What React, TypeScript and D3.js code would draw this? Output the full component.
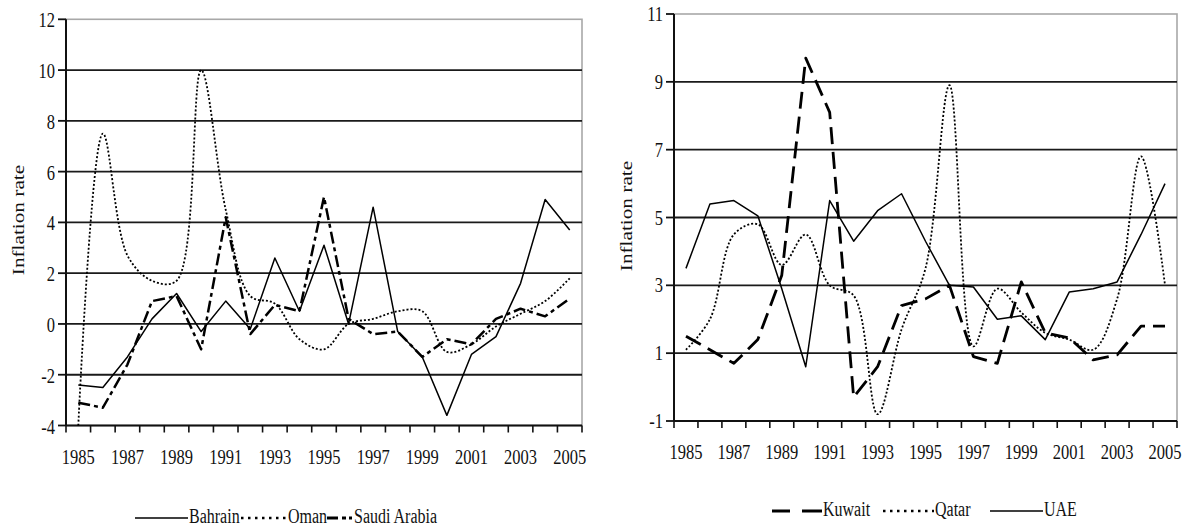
import * as d3 from "d3";
import React from "react";

// ---- data ----
const years = [
  "1985", "1986", "1987", "1988", "1989", "1990", "1991", "1992", "1993", "1994", "1995",
  "1996", "1997", "1998", "1999", "2000", "2001", "2002", "2003", "2004", "2005",
];
const yearLabels = ["1985", "1987", "1989", "1991", "1993", "1995", "1997", "1999", "2001", "2003", "2005"];

const leftTicks = [-4, -2, 0, 2, 4, 6, 8, 10, 12];
const rightTicks = [-1, 1, 3, 5, 7, 9, 11];

const bahrain = [-2.4, -2.5, -1.3, 0.2, 1.2, -0.3, 0.9, -0.2, 2.6, 0.5, 3.1, 0.0, 4.6, -0.3, -1.3, -3.6, -1.2, -0.5, 1.6, 4.9, 3.7];
const oman = [-4.0, 7.5, 2.7, 1.7, 1.7, 10.0, 4.5, 1.1, 0.8, -0.6, -1.0, 0.0, 0.2, 0.5, 0.5, -1.1, -0.8, -0.1, 0.4, 0.9, 1.8];
const saudiArabia = [-3.1, -3.3, -1.6, 0.9, 1.1, -1.0, 4.2, -0.4, 0.75, 0.5, 5.0, 0.2, -0.4, -0.3, -1.3, -0.6, -0.8, 0.2, 0.6, 0.3, 1.0];

const kuwait = [1.5, 1.1, 0.7, 1.4, 3.3, 9.7, 8.1, -0.3, 0.6, 2.4, 2.6, 3.0, 0.9, 0.7, 3.1, 1.6, 1.45, 0.8, 0.95, 1.8, 1.8];
const qatar = [1.1, 2.0, 4.5, 4.8, 3.6, 4.5, 3.0, 2.7, -0.8, 1.7, 3.5, 8.9, 1.2, 2.9, 2.2, 1.6, 1.4, 1.1, 2.6, 6.8, 3.0];
const uae = [3.5, 5.4, 5.5, 5.05, 2.9, 0.6, 5.5, 4.3, 5.2, 5.7, 4.3, 3.0, 2.95, 2.0, 2.1, 1.4, 2.8, 2.9, 3.1, 4.5, 6.0];

const FONT = "'Liberation Serif', 'Times New Roman', serif";

const styles = {
  solid: { dash: null, width: 1.5, curve: d3.curveLinear },
  dotted: { dash: "2,2", width: 1.8, curve: d3.curveCatmullRom },
  dashDot: { dash: "12,4,4,4", width: 2.5, curve: d3.curveLinear },
  longDash: { dash: "17,8", width: 2.8, curve: d3.curveLinear },
};

// text squeezed like the scanned figure
const Txt = ({ x, y, size = 16.5, anchor = "start", children }) => (
  <text
    transform={`translate(${x},${y}) scale(1,1.25)`}
    fontFamily={FONT}
    fontSize={size}
    textAnchor={anchor}
    fill="#111"
  >
    {children}
  </text>
);

const Panel = ({ box, ticks, series, labelY, labelX, labelOffset }) => {
  const x = d3.scaleBand(years, [box.left, box.right]).padding(0);
  const y = d3.scaleLinear([ticks[0], ticks[ticks.length - 1]], [box.bottom, box.top]);
  const bounds = x.domain().map((d) => x(d)).concat([box.right]);

  return (
    <g>
      <rect
        x={box.left}
        y={box.top}
        width={box.right - box.left}
        height={box.bottom - box.top}
        fill="white"
        stroke="#a8a8a8"
        strokeWidth={1.6}
      />
      {ticks.slice(1, -1).map((t) => (
        <line key={t} x1={box.left} x2={box.right} y1={y(t)} y2={y(t)} stroke="#1a1a1a" strokeWidth={1.8} />
      ))}
      {/* left axis */}
      <line x1={box.left} x2={box.left} y1={box.top} y2={box.bottom} stroke="#111" strokeWidth={2} />
      {ticks.map((t) => (
        <g key={t}>
          <line x1={box.left - 8} x2={box.left} y1={y(t)} y2={y(t)} stroke="#111" strokeWidth={1.8} />
          <Txt x={box.left - 11} y={y(t) + labelOffset} anchor="end">
            {t}
          </Txt>
        </g>
      ))}
      {/* bottom axis */}
      <line x1={box.left} x2={box.right} y1={box.bottom} y2={box.bottom} stroke="#111" strokeWidth={2} />
      {bounds.map((b, i) => (
        <line key={i} x1={b} x2={b} y1={box.bottom} y2={box.bottom + 7} stroke="#111" strokeWidth={1.6} />
      ))}
      {yearLabels.map((yr) => (
        <Txt key={yr} x={x(yr) + x.bandwidth() / 2} y={box.bottom + 38} anchor="middle">
          {yr}
        </Txt>
      ))}
      <text
        transform={`translate(${labelX},${labelY}) rotate(-90) scale(1.25,1)`}
        fontFamily={FONT}
        fontSize={17}
        textAnchor="middle"
        fill="#111"
      >
        Inflation rate
      </text>
      {series.map((s) => {
        const st = styles[s.style];
        const line = d3
          .line()
          .x((d, i) => x(years[i]) + x.bandwidth() / 2)
          .y((d) => y(d))
          .curve(st.curve);
        return (
          <path
            key={s.name}
            d={line(s.values)}
            fill="none"
            stroke="#000"
            strokeWidth={st.width}
            strokeDasharray={st.dash || undefined}
            strokeLinejoin="round"
          />
        );
      })}
    </g>
  );
};

const LegendSample = ({ kind, x1, x2, y }) => {
  if (kind === "solid") return <line x1={x1} x2={x2} y1={y} y2={y} stroke="#000" strokeWidth={1.4} />;
  if (kind === "dotted")
    return <line x1={x1 + 1} x2={x2} y1={y} y2={y} stroke="#000" strokeWidth={2.5} strokeDasharray="2.5,4.5" />;
  if (kind === "dashDot")
    return (
      <g>
        <line x1={x1} x2={x1 + 11} y1={y} y2={y} stroke="#000" strokeWidth={3} />
        <line x1={x1 + 15} x2={x1 + 19} y1={y} y2={y} stroke="#000" strokeWidth={3} />
        <rect x={x1 + 22} y={y - 1.5} width={3} height={3} fill="#000" />
      </g>
    );
  return (
    <g>
      <line x1={x1} x2={x1 + 18} y1={y} y2={y} stroke="#000" strokeWidth={3} />
      <line x1={x1 + 30} x2={x2} y1={y} y2={y} stroke="#000" strokeWidth={3} />
    </g>
  );
};

const leftLegend = [
  { name: "Bahrain", kind: "solid", x1: 135, x2: 188 },
  { name: "Oman", kind: "dotted", x1: 240, x2: 287 },
  { name: "Saudi Arabia", kind: "dashDot", x1: 327, x2: 353 },
];
const rightLegend = [
  { name: "Kuwait", kind: "longDash", x1: 772, x2: 822 },
  { name: "Qatar", kind: "dotted", x1: 882, x2: 934 },
  { name: "UAE", kind: "solid", x1: 990, x2: 1043 },
];

const Legend = ({ items, y }) => (
  <g>
    {items.map((it) => (
      <g key={it.name}>
        <LegendSample kind={it.kind} x1={it.x1} x2={it.x2} y={y - 5} />
        <Txt x={it.x2 + 1} y={y} size={16}>
          {it.name}
        </Txt>
      </g>
    ))}
  </g>
);

export default function App() {
  return (
    <svg
      width={1190}
      height={529}
      style={{ position: "absolute", left: 0, top: 0, background: "white" }}
    >
      <Panel
        box={{ left: 66, right: 582, top: 19.3, bottom: 425.5 }}
        ticks={leftTicks}
        labelX={24}
        labelY={220}
        labelOffset={8}
        series={[
          { name: "Bahrain", values: bahrain, style: "solid" },
          { name: "Oman", values: oman, style: "dotted" },
          { name: "Saudi Arabia", values: saudiArabia, style: "dashDot" },
        ]}
      />
      <Panel
        box={{ left: 674, right: 1177, top: 14, bottom: 421 }}
        ticks={rightTicks}
        labelX={632}
        labelY={216}
        labelOffset={7}
        series={[
          { name: "Kuwait", values: kuwait, style: "longDash" },
          { name: "Qatar", values: qatar, style: "dotted" },
          { name: "UAE", values: uae, style: "solid" },
        ]}
      />
      <Legend items={leftLegend} y={523} />
      <Legend items={rightLegend} y={516} />
    </svg>
  );
}
